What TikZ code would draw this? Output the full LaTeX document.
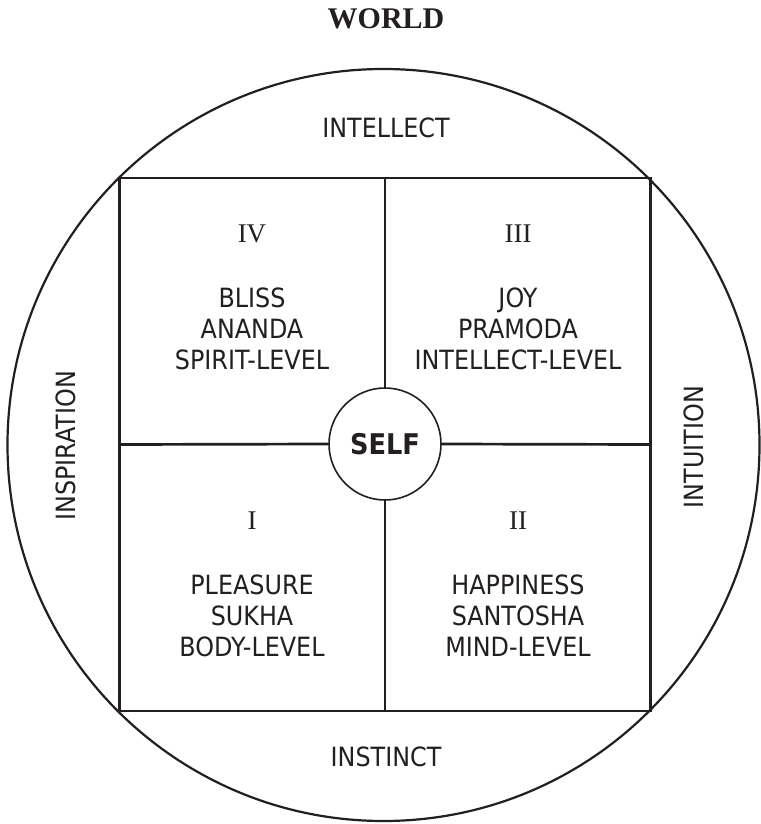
\documentclass[tikz,border=0pt]{standalone}
\usepackage{fontspec}
\setmainfont{Liberation Serif}
\newfontfamily\tah{DejaVu Sans}[FakeStretch=0.9]
\definecolor{ink}{RGB}{35,31,32}
\begin{document}
\begin{tikzpicture}[x=1pt,y=-1pt,
  txt/.style={font=\tah\fontsize{26.5}{30}\selectfont, text=ink, anchor=base, inner sep=0pt},
  num/.style={font=\fontsize{27}{30}\selectfont, text=ink, anchor=base, inner sep=0pt},
  side/.style={font=\tah\fontsize{26.5}{30}\selectfont, text=ink, inner sep=0pt, rotate=90},
  quad/.style={draw=ink, line width=2.7pt}]
\useasboundingbox (0,0) rectangle (760,824);
\fill[white] (0,0) rectangle (760,824);
\node[draw=ink, line width=2.2pt, circle, minimum size=752pt, inner sep=0pt] (world) at (383.5,445) {};
\node[quad, minimum width=531pt, minimum height=533pt, inner sep=0pt] (sq) at (385,444.5) {};
\node[draw=ink, fill=white, line width=1.6pt, circle, minimum size=112pt, inner sep=0pt,
      font=\tah\bfseries\fontsize{28.5}{30}\selectfont, text=ink] (self) at (385,444) {SELF};
\draw[quad] (sq.north) -- (self.north);
\draw[quad] (self.south) -- (sq.south);
\draw[quad] (sq.west) -- (self.west);
\draw[quad] (self.east) -- (sq.east);

\node[font=\bfseries\fontsize{30}{36}\selectfont, text=ink, anchor=base, inner sep=0pt] (worldlbl) at (386,29) {WORLD};
\node[txt] (intellect) at (386,137) {INTELLECT};
\node[txt] (instinct) at (386,766) {INSTINCT};
\node[side] (inspiration) at (66,446) {INSPIRATION};
\node[side] (intuition) at (694,447) {INTUITION};

% quadrant IV
\node[num] (n4) at (252,242) {IV};
\node[txt] (bliss) at (252,307) {BLISS};
\node[txt] (ananda) at (252,338) {ANANDA};
\node[txt] (spirit) at (252,369) {SPIRIT-LEVEL};
% quadrant III
\node[num] (n3) at (518,242) {III};
\node[txt] (joy) at (518,307) {JOY};
\node[txt] (pramoda) at (518,338) {PRAMODA};
\node[txt] (intlev) at (518,369) {INTELLECT-LEVEL};
% quadrant I
\node[num] (n1) at (252,529) {I};
\node[txt] (pleasure) at (252,594) {PLEASURE};
\node[txt] (sukha) at (252,625) {SUKHA};
\node[txt] (body) at (252,656) {BODY-LEVEL};
% quadrant II
\node[num] (n2) at (518,529) {II};
\node[txt] (happiness) at (518,594) {HAPPINESS};
\node[txt] (santosha) at (518,625) {SANTOSHA};
\node[txt] (mind) at (518,656) {MIND-LEVEL};
\end{tikzpicture}
\end{document}
